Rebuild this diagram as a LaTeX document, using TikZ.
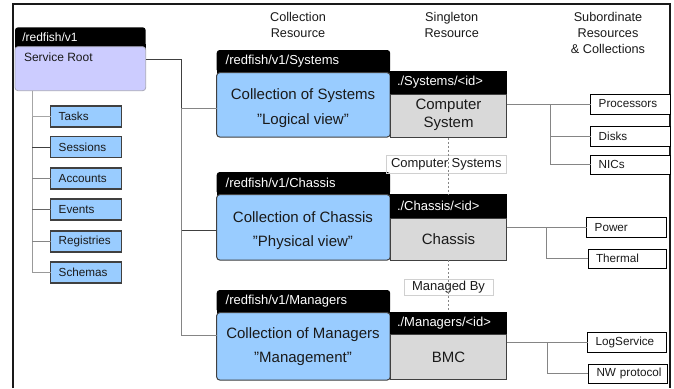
\documentclass[tikz,border=0pt]{standalone}
\usepackage{fontspec}
\setmainfont{Liberation Sans}
\definecolor{lav}{HTML}{CCCCFF}
\definecolor{lblue}{HTML}{99CCFF}
\definecolor{sgray}{HTML}{D9D9D9}
\definecolor{bord}{HTML}{404040}
\definecolor{connc}{HTML}{858585}
\definecolor{darkc}{HTML}{404040}
\definecolor{txt}{HTML}{1A1A1A}
\definecolor{labgray}{HTML}{D0D0D0}
\definecolor{rootbord}{HTML}{A8A8B8}
\begin{document}
\begin{tikzpicture}[x=1pt,y=-1pt,
  every node/.style={inner sep=0pt, outer sep=0pt, text=txt},
  rhead/.style={fill=black, rounded corners=3pt, anchor=north west, minimum height=19.4pt,
    text=white, font=\fontsize{12}{14}\selectfont, align=left, inner xsep=7.3pt, text width=116.1pt},
  rbody/.style={draw=rootbord, line width=0.8pt, fill=lav, rounded corners=3pt, anchor=north west,
    minimum width=130.7pt, minimum height=44pt},
  colhead/.style={fill=black, rounded corners=3pt, anchor=north west, minimum height=22.7pt,
    text=white, font=\fontsize{13}{15}\selectfont, align=left, inner xsep=9pt, text width=155.5pt},
  colbody/.style={draw=bord, line width=1pt, fill=lblue, rounded corners=3pt, anchor=north west,
    minimum width=173.5pt},
  singhead/.style={fill=black, anchor=north west, minimum height=23.3pt,
    text=white, font=\fontsize{13}{15}\selectfont, align=left, inner xsep=7pt, text width=102.5pt},
  singbody/.style={draw=bord, line width=1pt, fill=sgray, anchor=north west, minimum width=116.5pt},
  bigtext/.style={font=\fontsize{15}{24.5}\selectfont, align=center},
  sgtext/.style={font=\fontsize{15}{17.5}\selectfont, align=center},
  subbox/.style={draw=black, line width=1pt, fill=white, anchor=north west, minimum height=20pt,
    font=\fontsize{11.7}{14}\selectfont, align=left, text width=63pt, inner xsep=8pt},
  leaf/.style={draw=bord, line width=1.2pt, fill=lblue, anchor=north west, minimum height=21pt,
    font=\fontsize{11.7}{14}\selectfont, align=left, text width=55pt, inner xsep=8pt},
  lab/.style={draw=labgray, line width=0.8pt, font=\fontsize{13}{15}\selectfont},
  colhdr/.style={font=\fontsize{12.7}{16}\selectfont, align=center},
  conn/.style={draw=connc, line width=0.9pt},
  dconn/.style={draw=darkc, line width=0.9pt},
  dots/.style={draw=connc, line width=0.8pt, dash pattern=on 2pt off 2pt}
]
\useasboundingbox (0,0) rectangle (674,388);
% outer frame
\draw[line width=2pt, draw=black!90] (13.3,388) -- (13.3,4) -- (670,4) -- (670,388);

% column headers
\node[colhdr] (hcol) at (298,25) {Collection\\Resource};
\node[colhdr] (hsing) at (451.7,25) {Singleton\\Resource};
\node[colhdr] (hsub) at (608,33) {Subordinate\\Resources\\\& Collections};

% service root
\node[rhead] (rootH) at (15,27.3) {/redfish/v1};
\fill[black] ([yshift=3pt]rootH.south west) rectangle ([yshift=-3pt]rootH.south east);
\node[rbody] (rootB) at (rootH.south west) {};
\node[font=\fontsize{12}{14}\selectfont, anchor=west] (rootT) at (24,57) {Service Root};

% left leaves
\node[leaf] (tasks) at (50.7,106) {Tasks};
\node[leaf] (sessions) at (50.7,136.5) {Sessions};
\node[leaf] (accounts) at (50.7,168) {Accounts};
\node[leaf] (events) at (50.7,199) {Events};
\node[leaf] (registries) at (50.7,231) {Registries};
\node[leaf] (schemas) at (50.7,262) {Schemas};
\coordinate (trunk) at (32,90.7);
\draw[conn, draw=black!40] (trunk) |- (schemas.west);
\draw[conn, draw=black!35] (trunk) |- (tasks.west);
\draw[dconn] (trunk |- sessions.west) -- (sessions.west);
\draw[conn] (trunk |- accounts.west) -- (accounts.west);
\draw[conn, draw=black!60] (trunk |- events.west) -- (events.west);
\draw[conn] (trunk |- registries.west) -- (registries.west);

% Systems
\node[colhead] (sysH) at (216.7,50) {/redfish/v1/Systems};
\fill[black] ([yshift=3pt]sysH.south west) rectangle ([yshift=-3pt]sysH.south east);
\node[colbody, minimum height=64.3pt] (sysB) at (sysH.south west) {};
\node[bigtext] (sysT) at (303,108) {Collection of Systems\\"Logical view"};
\node[singhead] (compH) at (390,70.7) {./Systems/<id>};
\node[singbody, minimum height=43.5pt] (compB) at (compH.south west) {};
\node[sgtext] (compT) at (448.5,115) {Computer\\System};

% Chassis
\node[colhead] (chaH) at (216.7,172) {/redfish/v1/Chassis};
\fill[black] ([yshift=3pt]chaH.south west) rectangle ([yshift=-3pt]chaH.south east);
\node[colbody, minimum height=65.3pt] (chaB) at (chaH.south west) {};
\node[bigtext] (chaT) at (303,230.5) {Collection of Chassis\\"Physical view"};
\node[singhead, minimum height=24pt] (chsH) at (390,194) {./Chassis/<id>};
\node[singbody, minimum height=42pt] (chsB) at (chsH.south west) {};
\node[sgtext] (chsT) at (448.5,239) {Chassis};

% Managers
\node[colhead] (manH) at (216.7,290) {/redfish/v1/Managers};
\fill[black] ([yshift=3pt]manH.south west) rectangle ([yshift=-3pt]manH.south east);
\node[colbody, minimum height=67.3pt] (manB) at (manH.south west) {};
\node[bigtext] (manT) at (303,346.5) {Collection of Managers\\"Management"};
\node[singhead, minimum height=22pt] (bmcH) at (390,312) {./Managers/<id>};
\node[singbody, minimum height=45pt] (bmcB) at (bmcH.south west) {};
\node[sgtext] (bmcT) at (448.5,357) {BMC};

% root to collections
\coordinate (rootJ) at (181.7,59);
\coordinate (sysJ) at (181.7,108.3);
\coordinate (chaJ) at (181.7,230.7);
\coordinate (manJ) at (181.7,335.7);
\draw[dconn] (rootB.east |- rootJ) -- (rootJ) -- (sysJ);
\draw[conn] (sysJ) -- (manJ) -- (manJ -| manB.west);
\draw[conn] (sysJ) -- (sysJ -| sysB.west);
\draw[dconn] (chaJ) -- (chaJ -| chaB.west);

% relation labels and dotted links
\node[lab, minimum width=120.7pt, minimum height=17.3pt] (labCS) at (446.3,164.3) {Computer Systems};
\node[lab, minimum width=89pt, minimum height=16pt] (labMB) at (448.5,287) {Managed By};
\draw[dots] (compB.south) -- (chsH.north -| compB.south);
\draw[dots] (chsB.south -| compB.south) -- (bmcH.north -| compB.south);

% subordinate resources
\node[subbox, text width=63.3pt] (proc) at (590.7,94) {Processors};
\node[subbox, text width=63.3pt] (disks) at (590.7,126) {Disks};
\node[subbox, text width=63.3pt, minimum height=19pt] (nics) at (590.7,155) {NICs};
\node[subbox, text width=63.3pt, minimum height=19.3pt] (power) at (586.7,217.7) {Power};
\node[subbox, text width=62pt, minimum height=19pt] (thermal) at (588,249) {Thermal};
\node[subbox, text width=63pt] (logs) at (587.7,332) {LogService};
\node[subbox, inner xsep=8.5pt, text width=62pt, minimum height=19pt] (nwp) at (588,364) {\mbox{NW protocol}};

\coordinate (sysK) at (550.7,104);
\draw[conn] (compB.east |- proc.west) -- (proc.west);
\draw[conn] (sysK) |- (disks.west);
\draw[conn] (sysK) |- (nics.west);
\coordinate (chsK) at (546,227.4);
\draw[conn] (chsB.east |- power.west) -- (power.west);
\draw[conn] (chsK) |- (thermal.west);
\coordinate (bmcK) at (547.7,342);
\draw[conn] (bmcB.east |- logs.west) -- (logs.west);
\draw[conn] (bmcK) |- (nwp.west);
\end{tikzpicture}
\end{document}
